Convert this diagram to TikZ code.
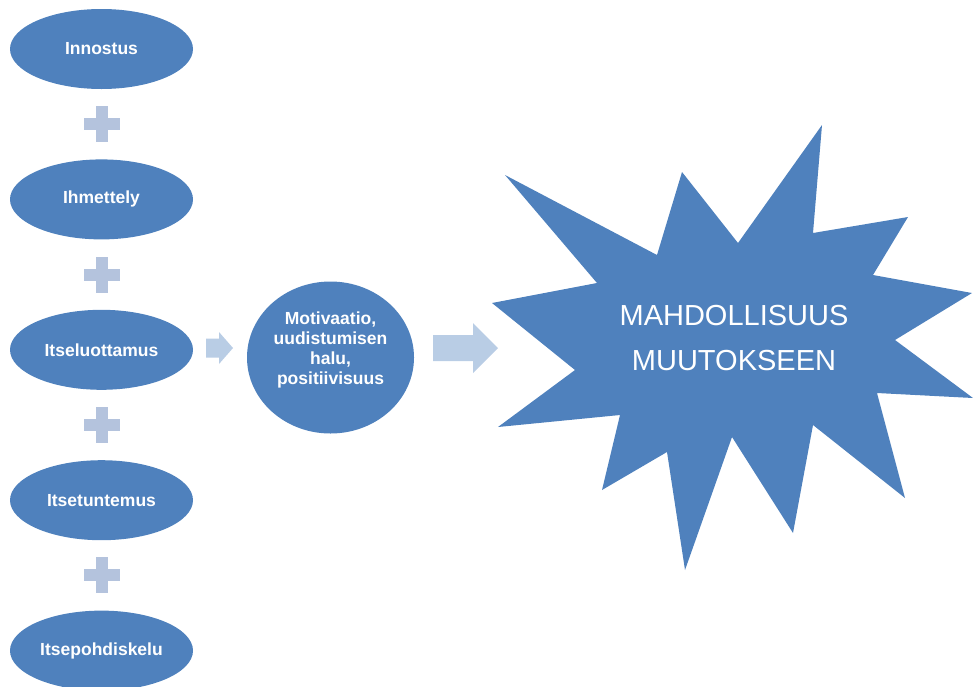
\documentclass[tikz,border=0pt]{standalone}
\usepackage{fontspec}
\setmainfont{Liberation Sans}
\usepackage{xcolor}
\usepackage{tikz}
\usetikzlibrary{positioning,calc,shapes.geometric}
\definecolor{Blue}{HTML}{4F81BD}
\definecolor{PlusBlue}{HTML}{B4C3DD}
\definecolor{ArrowBlue}{HTML}{B9CDE5}
\tikzset{
  trait/.style={
    ellipse, fill=Blue, draw=none, inner sep=0pt,
    minimum width=183pt, minimum height=80pt,
    text=white, font=\fontsize{17.5}{20}\selectfont\bfseries
  },
  motive/.style={trait, minimum width=167pt, minimum height=152pt},
  motivetext/.style={text=white, align=center, font=\fontsize{17.5}{20}\selectfont\bfseries},
  goaltext/.style={text=white, align=center, font=\fontsize{29}{45}\selectfont},
  plussign/.pic={
    \fill[PlusBlue] (-18,-6) rectangle (18,6);
    \fill[PlusBlue] (-6,-18) rectangle (6,18);
  }
}

\begin{document}
\begin{tikzpicture}[x=1pt,y=-1pt]
  \useasboundingbox (0,0) rectangle (973,686);
  % left column
  \node[trait] (inn) at (101.5,49) {Innostus};
  \node[trait,below=70pt of inn] (ihm) {Ihmettely};
  \node[trait,below=70pt of ihm] (ots) {Itseluottamus};
  \node[trait,below=70pt of ots] (tun) {Itsetuntemus};
  \node[trait,below=70pt of tun] (poh) {Itsepohdiskelu};
  \pic at ($(inn)!0.5!(ihm)$) {plussign};
  \pic at ($(ihm)!0.5!(ots)$) {plussign};
  \pic at ($(ots)!0.5!(tun)$) {plussign};
  \pic at ($(tun)!0.5!(poh)$) {plussign};
  % middle
  \node[motive] (mot) at (330.5,357.5) {};
  \node[motivetext] (motlbl) at ([yshift=8pt]mot.center) {Motivaatio,\\uudistumisen\\halu,\\positiivisuus};
  \fill[ArrowBlue] (206,338.5) -- (219,338.5) -- (219,332) -- (233,348)
    -- (219,364) -- (219,357.5) -- (206,357.5) -- cycle;
  \fill[ArrowBlue] (433,335) -- (473,335) -- (473,323) -- (498,348)
    -- (473,373) -- (473,361) -- (433,361) -- cycle;
  % star
  \fill[Blue] (505,175) -- (657,255) -- (682,172) -- (738,243) -- (822,125)
    -- (813,233) -- (908,217) -- (873,275) -- (972,293) -- (895,340)
    -- (973,398) -- (877,393) -- (905,498) -- (813,425) -- (793,533)
    -- (732,437) -- (685,570) -- (667,452) -- (602,490) -- (620,415)
    -- (498,427) -- (575,370) -- (492,303) -- (597,283) -- cycle;
  \node[goaltext] (goal) at (734,338) {MAHDOLLISUUS\\MUUTOKSEEN};
\end{tikzpicture}
\end{document}
